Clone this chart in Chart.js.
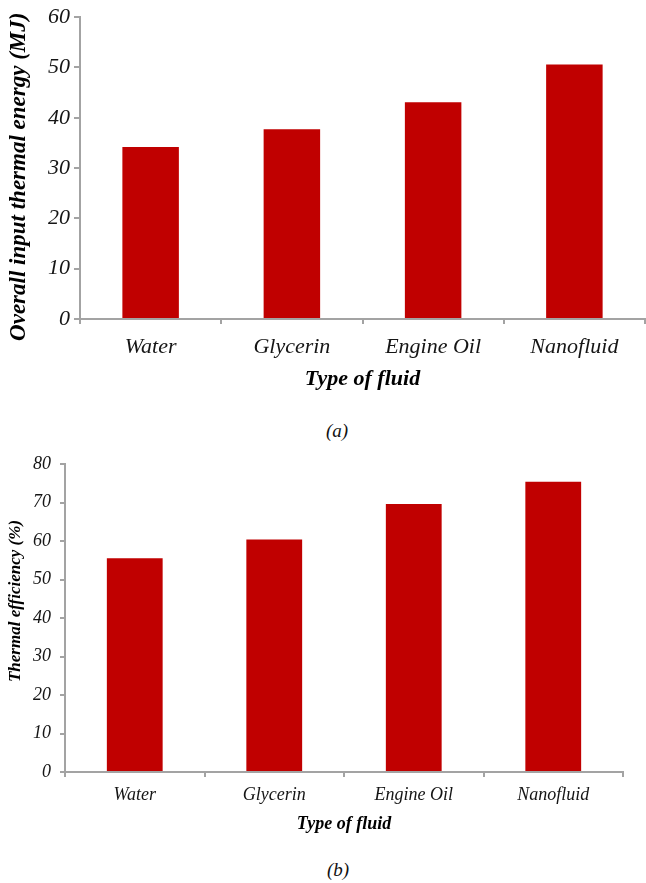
<!DOCTYPE html>
<html>
<head>
<meta charset="utf-8">
<title>Input thermal energy and thermal efficiency by fluid</title>
<script src="https://cdn.jsdelivr.net/npm/chart.js@4/dist/chart.umd.min.js"></script>
<style>
  html, body { margin: 0; padding: 0; background: #ffffff; }
  body { position: relative; width: 646px; height: 883px; overflow: hidden; }
  .panel { position: absolute; left: 0; }
  .caption {
    position: absolute;
    width: 76px;
    text-align: center;
    font-family: "Liberation Serif", "Times New Roman", serif;
    font-style: italic;
    font-size: 19px;
    line-height: 19px;
    color: #111111;
  }
</style>
</head>
<body>
<div class="panel" style="top:0px;"><canvas id="energyChart" width="646" height="400"></canvas></div>
<div class="caption" style="left:299px; top:421px;">(a)</div>
<div class="panel" style="top:440px;"><canvas id="efficiencyChart" width="646" height="400"></canvas></div>
<div class="caption" style="left:300px; top:860px;">(b)</div>

<script>
// Fluids compared
const fluidTypes = ['Water', 'Glycerin', 'Engine Oil', 'Nanofluid'];

// (a) overall input thermal energy, MJ
const inputEnergyMJ = [34.2, 37.7, 43.1, 50.6];
const energyTicks = [0, 10, 20, 30, 40, 50, 60];

// (b) thermal efficiency, %
const thermalEfficiency = [55.5, 60.4, 69.6, 75.4];
const efficiencyTicks = [0, 10, 20, 30, 40, 50, 60, 70, 80];

const SERIF = '"Liberation Serif", "Times New Roman", serif';
const BAR_RED = '#c00000';
const AXIS_GREY = '#a3a3a3';
const TEXT_DARK = '#151515';

function barPanel(canvasId, values, tickValues, opts) {
  const ctx = document.getElementById(canvasId).getContext('2d');
  return new Chart(ctx, {
    type: 'bar',
    data: {
      labels: fluidTypes,
      datasets: [{
        data: values,
        backgroundColor: BAR_RED,
        borderWidth: 0,
        barPercentage: 0.8,
        categoryPercentage: 0.5
      }]
    },
    options: {
      responsive: false,
      animation: false,
      devicePixelRatio: 1,
      layout: { padding: { top: opts.padTop, right: opts.padRight, left: 0, bottom: 0 } },
      plugins: { legend: { display: false }, tooltip: { enabled: false } },
      scales: {
        x: {
          afterFit: (scale) => { scale.height = opts.xHeight; },
          grid: {
            display: true, offset: true, drawOnChartArea: false, drawTicks: true,
            tickLength: 5, color: AXIS_GREY, lineWidth: 2
          },
          border: { display: true, color: AXIS_GREY, width: 2 },
          ticks: {
            color: TEXT_DARK, maxRotation: 0, autoSkip: false,
            padding: opts.xLabelPad,
            font: { family: SERIF, style: 'italic', size: opts.catSize }
          },
          title: {
            display: true, text: 'Type of fluid', color: '#000000',
            padding: { top: 0, bottom: opts.xTitlePad },
            font: { family: SERIF, style: 'italic', weight: 'bold', size: opts.xTitleSize }
          }
        },
        y: {
          min: tickValues[0],
          max: tickValues[tickValues.length - 1],
          afterFit: (scale) => { scale.width = opts.yWidth; },
          afterBuildTicks: (scale) => { scale.ticks = tickValues.map(v => ({ value: v })); },
          grid: {
            display: true, drawOnChartArea: false, drawTicks: true,
            tickLength: opts.yTickLen, color: AXIS_GREY, lineWidth: 2
          },
          border: { display: true, color: AXIS_GREY, width: 2 },
          ticks: {
            color: TEXT_DARK, padding: opts.yLabelPad,
            font: { family: SERIF, style: 'italic', size: opts.tickSize }
          },
          title: {
            display: true, text: opts.yTitle, color: '#000000',
            padding: { top: opts.yTitlePad, bottom: 0 },
            font: { family: SERIF, style: 'italic', weight: 'bold', size: opts.yTitleSize }
          }
        }
      }
    }
  });
}

barPanel('energyChart', inputEnergyMJ, energyTicks, {
  padTop: 16, padRight: 1, xHeight: 81, yWidth: 80,
  yTickLen: 6, yLabelPad: 4, xLabelPad: 10, xTitlePad: 7,
  tickSize: 22, catSize: 22, xTitleSize: 22, yTitleSize: 23, yTitlePad: 5,
  yTitle: 'Overall input thermal energy (MJ)   '
});

barPanel('efficiencyChart', thermalEfficiency, efficiencyTicks, {
  padTop: 24, padRight: 23, xHeight: 68, yWidth: 65,
  yTickLen: 5, yLabelPad: 9, xLabelPad: 7, xTitlePad: 5,
  tickSize: 18, catSize: 18, xTitleSize: 18, yTitleSize: 17, yTitlePad: 5,
  yTitle: '\u2003\u2003Thermal efficiency (%)'
});
</script>
</body>
</html>
